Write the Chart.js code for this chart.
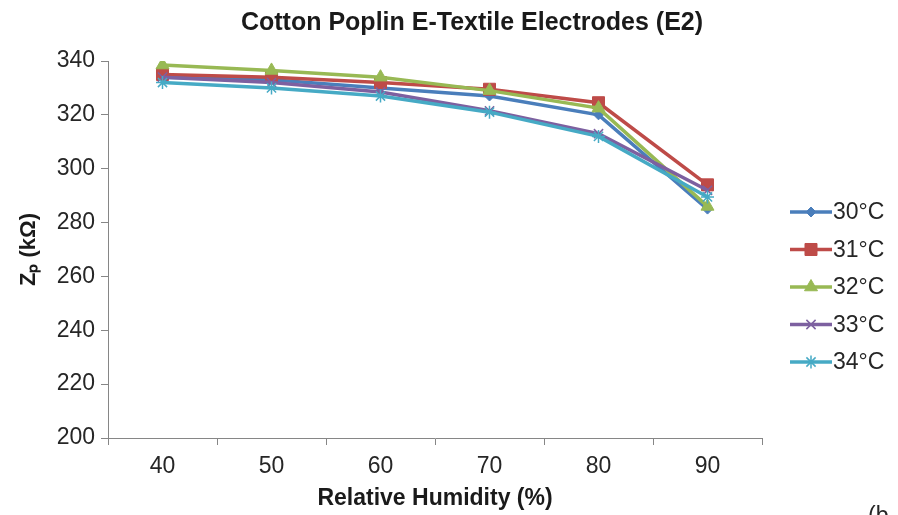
<!DOCTYPE html>
<html>
<head>
<meta charset="utf-8">
<script src="https://cdn.jsdelivr.net/npm/chart.js@4/dist/chart.umd.min.js"></script>
<style>
  html, body { margin: 0; padding: 0; background: #fff; }
  #wrap { width: 898px; height: 515px; position: relative; }
</style>
</head>
<body>
<div id="wrap"><canvas id="chart" width="898" height="515"></canvas></div>
<script>
// Chart data
const humidity = ['40', '50', '60', '70', '80', '90'];
const seriesNames = ['30°C', '31°C', '32°C', '33°C', '34°C'];
const t30 = [334, 333, 330, 327, 320, 285];
const t31 = [335, 334, 332, 329.5, 324.5, 294];
const t32 = [338.5, 336.5, 334, 329, 322.5, 286];
const t33 = [334, 332, 328.5, 321.5, 313, 292];
const t34 = [332, 330, 327, 321, 312, 289.5];
const yTicks = [200, 220, 240, 260, 280, 300, 320, 340];
const chartTitle = 'Cotton Poplin E-Textile Electrodes (E2)';

// Excel 2007 style colours and markers
const lineColors = ['#4A7EBB', '#BE4B48', '#98B954', '#7D60A0', '#46AAC5'];
const markers = ['rectRot', 'rect', 'triangle', 'crossRot', 'star'];
const markerSizes = [5, 8.5, 7.5, 6.5, 6.5];

const fontFamily = '"Liberation Sans", Arial, sans-serif';

function makeDataset(i, values) {
  return {
    label: seriesNames[i],
    data: values,
    borderColor: lineColors[i],
    backgroundColor: lineColors[i],
    borderWidth: 3.5,
    pointStyle: markers[i],
    pointRadius: markerSizes[i],
    pointBorderWidth: (i >= 3) ? 1.5 : 1,
    pointBackgroundColor: lineColors[i],
    pointBorderColor: lineColors[i],
    tension: 0,
    order: 5 - i
  };
}

// Title centred over the whole picture, and a line + marker legend like Excel
const sideLegend = {
  id: 'sideLegend',
  afterDraw(chart) {
    const ctx = chart.ctx;
    ctx.save();
    ctx.fillStyle = '#1a1a1a';
    ctx.font = 'bold 25px ' + fontFamily;
    ctx.textAlign = 'center';
    ctx.textBaseline = 'middle';
    ctx.fillText(chartTitle, 472, 23);

    const x0 = 790, x1 = 832, yStart = 212, gap = 37.5;
    chart.data.datasets.forEach((ds, i) => {
      const y = yStart + i * gap;
      ctx.strokeStyle = ds.borderColor;
      ctx.lineWidth = 3.5;
      ctx.beginPath();
      ctx.moveTo(x0, y);
      ctx.lineTo(x1, y);
      ctx.stroke();
      ctx.fillStyle = ds.borderColor;
      ctx.lineWidth = ds.pointBorderWidth;
      Chart.helpers.drawPoint(ctx, {
        pointStyle: ds.pointStyle,
        radius: ds.pointRadius,
        rotation: 0,
        borderWidth: ds.pointBorderWidth
      }, (x0 + x1) / 2, y);
      ctx.fillStyle = '#262626';
      ctx.font = '23px ' + fontFamily;
      ctx.textAlign = 'left';
      ctx.textBaseline = 'middle';
      ctx.fillText(ds.label, x1 + 1, y + 1);
    });
    // cut-off panel letter at bottom right
    ctx.fillStyle = '#262626';
    ctx.font = '23px ' + fontFamily;
    ctx.textBaseline = 'alphabetic';
    ctx.fillText('(b', 868, 523);
    ctx.restore();
  }
};

const ctx = document.getElementById('chart').getContext('2d');
const chart = new Chart(ctx, {
  type: 'line',
  data: {
    labels: humidity,
    datasets: [
      makeDataset(0, t30),
      makeDataset(1, t31),
      makeDataset(2, t32),
      makeDataset(3, t33),
      makeDataset(4, t34)
    ]
  },
  options: {
    responsive: false,
    animation: false,
    devicePixelRatio: 1,
    layout: { padding: { left: 0, right: 136, top: 61, bottom: 0 } },
    plugins: {
      legend: { display: false },
      tooltip: { enabled: false },
      title: { display: false }
    },
    scales: {
      x: {
        offset: true,
        afterFit(scale) { scale.height = 77; },
        grid: {
          offset: true,
          drawOnChartArea: false,
          drawTicks: true,
          tickLength: 7,
          color: '#868686'
        },
        border: { color: '#868686', width: 1 },
        ticks: {
          color: '#262626',
          font: { family: fontFamily, size: 23 },
          padding: 8,
          maxRotation: 0
        },
        title: {
          display: true,
          text: 'Relative Humidity (%)',
          color: '#1a1a1a',
          font: { family: fontFamily, size: 23, weight: 'bold' },
          padding: { top: 0, bottom: 3 }
        }
      },
      y: {
        min: 200,
        max: 340,
        afterFit(scale) { scale.width = 108; },
        afterBuildTicks(scale) { scale.ticks = yTicks.map(v => ({ value: v })); },
        grid: {
          drawOnChartArea: false,
          drawTicks: true,
          tickLength: 7,
          color: '#868686'
        },
        border: { color: '#868686', width: 1 },
        ticks: {
          color: '#262626',
          font: { family: fontFamily, size: 23 },
          padding: 6
        },
        title: {
          display: true,
          text: 'Zₚ (kΩ)',
          color: '#1a1a1a',
          font: { family: fontFamily, size: 22, weight: 'bold' },
          padding: { top: 16, bottom: 0 }
        }
      }
    }
  },
  plugins: [sideLegend]
});
</script>
</body>
</html>
